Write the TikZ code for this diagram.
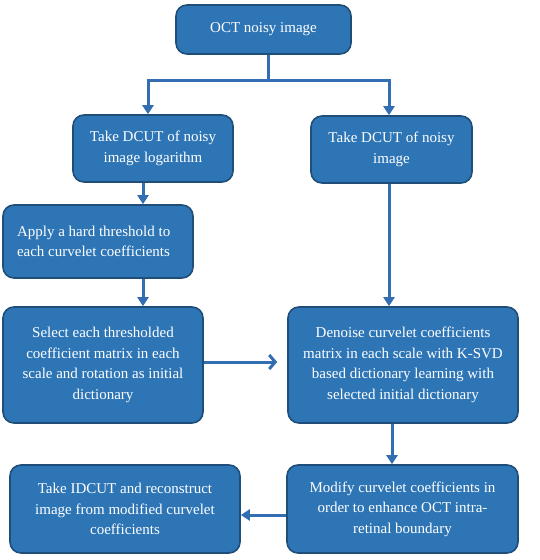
\documentclass[tikz,border=0pt]{standalone}
\usepackage{fontspec}
\setmainfont{Liberation Serif}
\usepackage{xcolor}
\usetikzlibrary{arrows.meta}
\definecolor{boxfill}{RGB}{46,117,182}
\definecolor{boxline}{RGB}{31,78,121}
\definecolor{arrline}{RGB}{52,110,178}

\begin{document}
\begin{tikzpicture}[x=1pt,y=-1pt,
	stepbox/.style={draw=boxline, line width=1.6pt, fill=boxfill, rounded corners=11pt,
		text=white, align=center, inner sep=2pt,
		font=\fontsize{15}{20.5}\selectfont},
	arr/.style={draw=arrline, line width=3pt, -{Triangle[length=9pt,width=11pt]}},
	barb/.style={draw=arrline, line width=3pt, -{Straight Barb[length=6pt,width=14pt]}}]
	\useasboundingbox (0,0) rectangle (539,560);
	\node[stepbox, minimum width=175pt, minimum height=49pt] (oct) at (263.5,29.5) {OCT noisy image};
	\node[stepbox, minimum width=160pt, minimum height=67pt] (dcutlog) at (153,148.5)
		{Take DCUT of noisy\\image logarithm};
	\node[stepbox, minimum width=161pt, minimum height=67pt] (dcut) at (391.5,149.5)
		{Take DCUT of noisy\\image};
	\node[stepbox, minimum width=190pt, minimum height=73pt, align=flush left, text width=162pt] (thresh) at (98,241.5)
		{Apply a hard threshold to\\each curvelet coefficients\\[6pt]};
	\node[stepbox, minimum width=200pt, minimum height=116pt] (select) at (103,365)
		{Select each thresholded\\coefficient matrix in each\\scale and rotation as initial\\dictionary};
	\node[stepbox, minimum width=230pt, minimum height=116pt] (denoise) at (403,365)
		{Denoise curvelet coefficients\\matrix in each scale with K-SVD\\based dictionary learning with\\selected initial dictionary};
	\node[stepbox, minimum width=230pt, minimum height=88pt] (idcut) at (125,509)
		{Take IDCUT and reconstruct\\image from modified curvelet\\coefficients};
	\node[stepbox, minimum width=231pt, minimum height=88pt] (modify) at (402.5,509)
		{Modify curvelet coefficients in\\order to enhance OCT intra-\\retinal boundary};
	\coordinate (split) at (268,80);
	\coordinate (colL) at (148,0);
	\coordinate (colT) at (143,0);
	\coordinate (colR) at (389,0);
	\coordinate (colD) at (392,0);
	\coordinate (rowB) at (0,515);
	\draw[draw=arrline, line width=3pt] (oct.south -| split) -- (split);
	\draw[arr] (split) -| (dcutlog.north -| colL);
	\draw[arr] (split) -| (dcut.north -| colR);
	\draw[arr] (dcutlog.south -| colT) -- (thresh.north -| colT);
	\draw[arr] (thresh.south -| colT) -- (select.north -| colT);
	\draw[arr] (dcut.south -| colR) -- (denoise.north -| colR);
	\draw[barb] (select.east |- 0,362) -- ([xshift=-10pt]denoise.west |- 0,362);
	\draw[arr] (denoise.south -| colD) -- (modify.north -| colD);
	\draw[arr] (modify.west |- rowB) -- (idcut.east |- rowB);
\end{tikzpicture}
\end{document}
